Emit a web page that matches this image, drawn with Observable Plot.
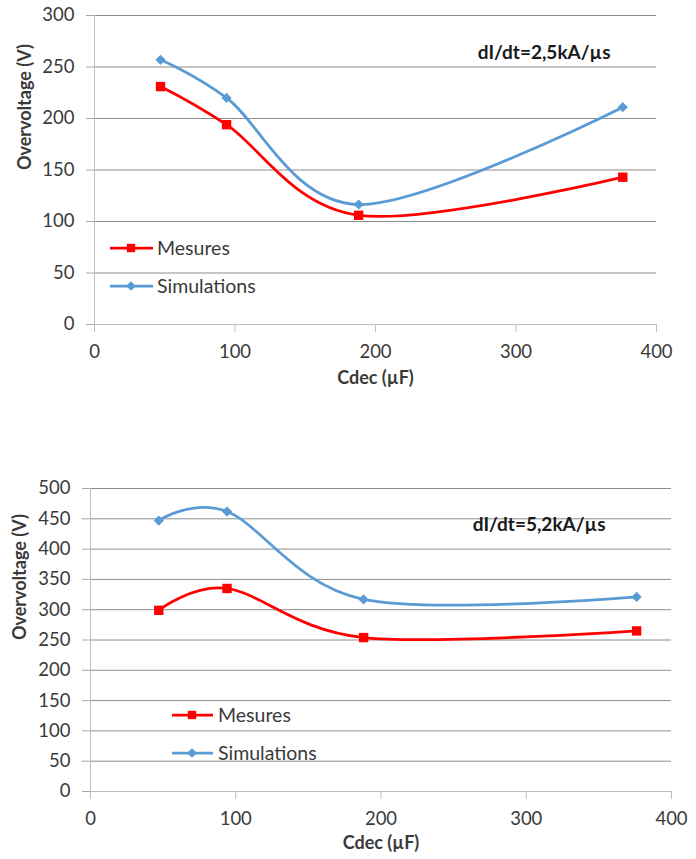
<!DOCTYPE html>
<html><head><meta charset="utf-8">
<script src="https://cdn.jsdelivr.net/npm/d3@7"></script>
<script src="https://cdn.jsdelivr.net/npm/@observablehq/plot@0.6"></script>
<style>
body{margin:0;background:#fff;font-family:Lato, sans-serif;}
#wrap{width:696px;height:859px;}
#wrap svg{display:block;}
</style></head><body><div id="wrap"></div>
<script>
const cdec = [47, 94, 188, 376];
const mesures1 = [231, 194, 106, 143];
const simulations1 = [257, 220, 116.5, 211];
const mesures2 = [299, 335, 254, 265];
const simulations2 = [447, 462, 317, 321];
const xTicks = [0, 100, 200, 300, 400];
const yTicks1 = [0, 50, 100, 150, 200, 250, 300];
const yTicks2 = [0, 50, 100, 150, 200, 250, 300, 350, 400, 450, 500];
const seriesNames = ["Mesures", "Simulations"];
const titles = ["dI/dt=2,5kA/µs", "dI/dt=5,2kA/µs"];
const xLabel = "Cdec (µF)";
const yLabel = "Overvoltage (V)";

const RED = "#ff0000", BLUE = "#5b9bd5", TXT = "#3a3a3a";

function panel(o) {
  const mesData = cdec.map((x, i) => ({x, y: o.mes[i]}));
  const simData = cdec.map((x, i) => ({x, y: o.sim[i]}));
  const svg = Plot.plot({
    width: 696, height: o.height,
    marginTop: o.mt, marginBottom: o.mb, marginLeft: o.ml, marginRight: o.mr,
    style: {fontFamily: "Lato, sans-serif", fontSize: "18px", color: TXT, background: "#fff", overflow: "visible"},
    x: {domain: [0, 400]},
    y: {domain: [0, o.yTicks[o.yTicks.length - 1]]},
    marks: [
      Plot.ruleY(o.yTicks.filter(d => d > 0), {stroke: "#8c8c8c", strokeWidth: 1}),
      Plot.ruleY([0], {stroke: "#bfbfbf"}),
      Plot.ruleX([0], {stroke: "#bfbfbf"}),
      Plot.axisY({ticks: o.yTicks, tickSize: 8, tickPadding: 12, stroke: "#a6a6a6", fill: TXT, fontSize: 18.5, label: null}),
      Plot.axisX({ticks: xTicks, tickSize: 8, tickPadding: 12, stroke: "#bfbfbf", fill: TXT, fontSize: 18.5, label: null}),
      Plot.text([yLabel], {text: d => d, frameAnchor: "left", dx: o.yLabelDx, rotate: -90, fontWeight: "bold", fontSize: 18, fill: TXT}),
      Plot.text([xLabel], {text: d => d, frameAnchor: "bottom", dy: o.xLabelDy, fontWeight: "bold", fontSize: 18, fill: TXT}),
      Plot.text([o.title], {text: d => d, frameAnchor: "top-right", dx: o.titleDx, dy: o.titleDy, textAnchor: "end", fontWeight: "bold", fontSize: 19, fill: "#1a1a1a"}),
      Plot.line(simData, {x: "x", y: "y", stroke: BLUE, strokeWidth: 2.75, curve: "cardinal", tension: 0}),
      Plot.line(mesData, {x: "x", y: "y", stroke: RED, strokeWidth: 2.75, curve: "cardinal", tension: 0}),
      Plot.dot(simData, {x: "x", y: "y", symbol: "diamond2", r: 4.6, fill: BLUE, stroke: "none"}),
      Plot.dot(mesData, {x: "x", y: "y", symbol: "square", r: 5.3, fill: RED, stroke: "none"})
    ]
  });
  // legend inside the plot area
  const g = d3.select(svg).append("g").attr("class", "legend").attr("text-anchor", "start");
  const cols = [RED, BLUE];
  const syms = [d3.symbolSquare, d3.symbolDiamond2];
  const sizes = [70, 60];
  seriesNames.forEach((name, i) => {
    const y = o.legY[i];
    g.append("line").attr("x1", o.legX1).attr("x2", o.legX2).attr("y1", y).attr("y2", y)
      .attr("stroke", cols[i]).attr("stroke-width", 2.75);
    g.append("path").attr("d", d3.symbol(syms[i], sizes[i])())
      .attr("transform", `translate(${o.legM},${y})`).attr("fill", cols[i]);
    g.append("text").attr("x", o.legT).attr("y", y).attr("dy", "0.36em")
      .attr("text-anchor", "start")
      .attr("fill", TXT).attr("font-size", 19.5).attr("font-family", "Lato, sans-serif").text(name);
  });
  return svg;
}

const wrap = document.getElementById("wrap");
wrap.appendChild(panel({
  mes: mesures1, sim: simulations1, yTicks: yTicks1, title: titles[0],
  height: 430, mt: 15, mb: 106, ml: 94, mr: 40,
  yLabelDx: -69, xLabelDy: 59, titleDx: -46, titleDy: 30,
  legY: [248, 286], legX1: 110, legX2: 153, legM: 131, legT: 157
}));
wrap.appendChild(panel({
  mes: mesures2, sim: simulations2, yTicks: yTicks2, title: titles[1],
  height: 429, mt: 58, mb: 68, ml: 90, mr: 25,
  yLabelDx: -70, xLabelDy: 57, titleDx: -66, titleDy: 29,
  legY: [285, 323], legX1: 172, legX2: 213, legM: 192, legT: 218
}));
</script></body></html>
